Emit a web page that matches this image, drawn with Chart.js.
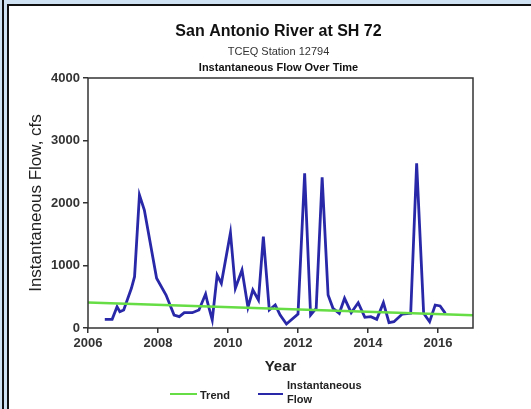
<!DOCTYPE html>
<html>
<head>
<meta charset="utf-8">
<script src="https://cdn.jsdelivr.net/npm/chart.js@4"></script>
<style>
  html, body { margin: 0; padding: 0; background: #ffffff; width: 531px; height: 409px; overflow: hidden; }
  #wrap { position: absolute; left: 0; top: 0; width: 531px; height: 409px; }
  .deco { position: absolute; pointer-events: none; }
</style>
</head>
<body>
<div id="wrap"><canvas id="c" width="531" height="409"></canvas></div>
<div class="deco" style="left:0;top:0;width:531px;height:4px;background:#cfe2f3;"></div>
<div class="deco" style="left:0;top:0;width:7px;height:409px;background:#cfe2f3;"></div>
<div class="deco" style="left:2px;top:0;width:2px;height:409px;background:#111;"></div>
<div class="deco" style="left:7px;top:4px;width:524px;height:2px;background:#111;"></div>
<div class="deco" style="left:7px;top:4px;width:2px;height:405px;background:#111;"></div>
<script>
// ---- data ----
const chartTitle = "San Antonio River at SH 72";
const stationLine = "TCEQ Station 12794";
const subTitle = "Instantaneous Flow Over Time";
const xAxisTitle = "Year";
const yAxisTitle = "Instantaneous Flow, cfs";

const flowYears = [2006.48, 2006.69, 2006.83, 2006.91, 2007.02, 2007.24, 2007.33, 2007.47, 2007.61, 2007.96,
  2008.23, 2008.46, 2008.61, 2008.75, 2008.98, 2009.17, 2009.36, 2009.41, 2009.55, 2009.69,
  2009.81, 2010.07, 2010.21, 2010.40, 2010.57, 2010.71, 2010.87, 2011.01, 2011.18, 2011.35,
  2011.49, 2011.67, 2012.00, 2012.19, 2012.36, 2012.52, 2012.69, 2012.86, 2013.00, 2013.18,
  2013.33, 2013.52, 2013.72, 2013.91, 2014.08, 2014.25, 2014.44, 2014.60, 2014.74, 2014.98,
  2015.22, 2015.39, 2015.59, 2015.76, 2015.92, 2016.06, 2016.21];
const flowValues = [139, 139, 341, 261, 288, 635, 821, 2128, 1888, 795,
  528, 208, 181, 245, 245, 288, 544, 421, 128, 848,
  715, 1525, 635, 928, 331, 608, 448, 1461, 288, 368,
  208, 64, 224, 2475, 208, 315, 2411, 528, 315, 235,
  475, 245, 405, 171, 181, 139, 405, 85, 101, 224,
  235, 2635, 235, 101, 368, 352, 235];

const trendYears = [2006, 2017];
const trendValues = [410, 205];

const yTicks = [0, 1000, 2000, 3000, 4000];
const xTicks = [2006, 2008, 2010, 2012, 2014, 2016];

const seriesLabels = ["Trend", ["Instantaneous", "Flow"]];
const seriesColors = ["#66dd44", "#2828a8"];

const toPts = (xs, ys) => xs.map((x, i) => ({x: x, y: ys[i]}));

const titlesPlugin = {
  id: 'titles',
  afterDraw(chart) {
    const {ctx, chartArea} = chart;
    const cx = (chartArea.left + chartArea.right) / 2 - 2;
    ctx.save();
    ctx.fillStyle = '#111';
    ctx.textAlign = 'center';
    ctx.textBaseline = 'middle';
    ctx.font = 'bold 16px "Liberation Sans", Arial, sans-serif';
    ctx.fillText(chartTitle, cx, 32);
    ctx.font = '11px "Liberation Sans", Arial, sans-serif';
    ctx.fillStyle = '#333';
    ctx.fillText(stationLine, cx, 52);
    ctx.font = 'bold 11px "Liberation Sans", Arial, sans-serif';
    ctx.fillStyle = '#111';
    ctx.fillText(subTitle, cx, 68);
    ctx.restore();
  }
};

const framePlugin = {
  id: 'frame',
  afterDatasetsDraw(chart) {
    const {ctx, chartArea: a} = chart;
    ctx.save();
    ctx.strokeStyle = '#333';
    ctx.lineWidth = 1.5;
    ctx.strokeRect(a.left, a.top, a.right - a.left, a.bottom - a.top);
    ctx.restore();
  }
};

const legendPlugin = {
  id: 'customLegend',
  afterDraw(chart) {
    const {ctx} = chart;
    const items = [
      {x1: 170, x2: 197, tx: 200},
      {x1: 258, x2: 283, tx: 287}
    ];
    const ly = 394;
    ctx.save();
    ctx.font = 'bold 11px "Liberation Sans", Arial, sans-serif';
    ctx.textBaseline = 'middle';
    ctx.textAlign = 'left';
    chart.data.datasets.forEach((ds, i) => {
      const it = items[i];
      ctx.strokeStyle = ds.borderColor;
      ctx.lineWidth = 2;
      ctx.beginPath();
      ctx.moveTo(it.x1, ly);
      ctx.lineTo(it.x2, ly);
      ctx.stroke();
      ctx.fillStyle = '#222';
      const lab = seriesLabels[i];
      if (Array.isArray(lab)) {
        const lh = 14;
        const start = ly - (lab.length - 1) * lh / 2 - 1;
        lab.forEach((t, j) => ctx.fillText(t, it.tx, start + j * lh));
      } else {
        ctx.fillText(lab, it.tx, ly + 2);
      }
    });
    ctx.restore();
  }
};

new Chart(document.getElementById('c'), {
  type: 'line',
  data: {
    datasets: [
      {
        label: 'Trend',
        data: toPts(trendYears, trendValues),
        borderColor: seriesColors[0],
        borderWidth: 2.5,
        pointRadius: 0,
        tension: 0
      },
      {
        label: 'Instantaneous Flow',
        data: toPts(flowYears, flowValues),
        borderColor: seriesColors[1],
        borderWidth: 2.8,
        pointRadius: 0,
        tension: 0
      }
    ]
  },
  options: {
    responsive: false,
    animation: false,
    devicePixelRatio: 1,
    layout: { padding: { left: 10, right: 58, top: 78, bottom: 0 } },
    plugins: {
      legend: { display: false },
      title: { display: false },
      tooltip: { enabled: false }
    },
    scales: {
      x: {
        type: 'linear',
        min: 2006,
        max: 2017,
        afterFit(scale) { scale.height = 81; },
        afterBuildTicks(scale) { scale.ticks = xTicks.map(v => ({value: v})); },
        ticks: {
          includeBounds: false,
          padding: 3,
          color: '#333',
          font: { family: '"Liberation Sans", Arial, sans-serif', size: 13, weight: 'bold' },
          callback: v => String(v)
        },
        grid: { drawOnChartArea: false, drawTicks: true, tickLength: 5, color: '#333', lineWidth: 1.5 },
        border: { display: false },
        title: {
          display: true,
          text: xAxisTitle,
          color: '#222',
          font: { family: '"Liberation Sans", Arial, sans-serif', size: 15, weight: 'bold' },
          padding: { top: 0, bottom: 33 }
        }
      },
      y: {
        type: 'linear',
        min: 0,
        max: 4000,
        afterFit(scale) { scale.width = 78; },
        afterBuildTicks(scale) { scale.ticks = yTicks.map(v => ({value: v})); },
        ticks: {
          padding: 3,
          color: '#333',
          font: { family: '"Liberation Sans", Arial, sans-serif', size: 13, weight: 'bold' },
          callback: v => String(v)
        },
        grid: { drawOnChartArea: false, drawTicks: true, tickLength: 5, color: '#333', lineWidth: 1.5 },
        border: { display: false },
        title: {
          display: true,
          text: yAxisTitle,
          color: '#222',
          font: { family: '"Liberation Sans", Arial, sans-serif', size: 17 },
          padding: { top: 16, bottom: 0 }
        }
      }
    }
  },
  plugins: [titlesPlugin, framePlugin, legendPlugin]
});
</script>
</body>
</html>
